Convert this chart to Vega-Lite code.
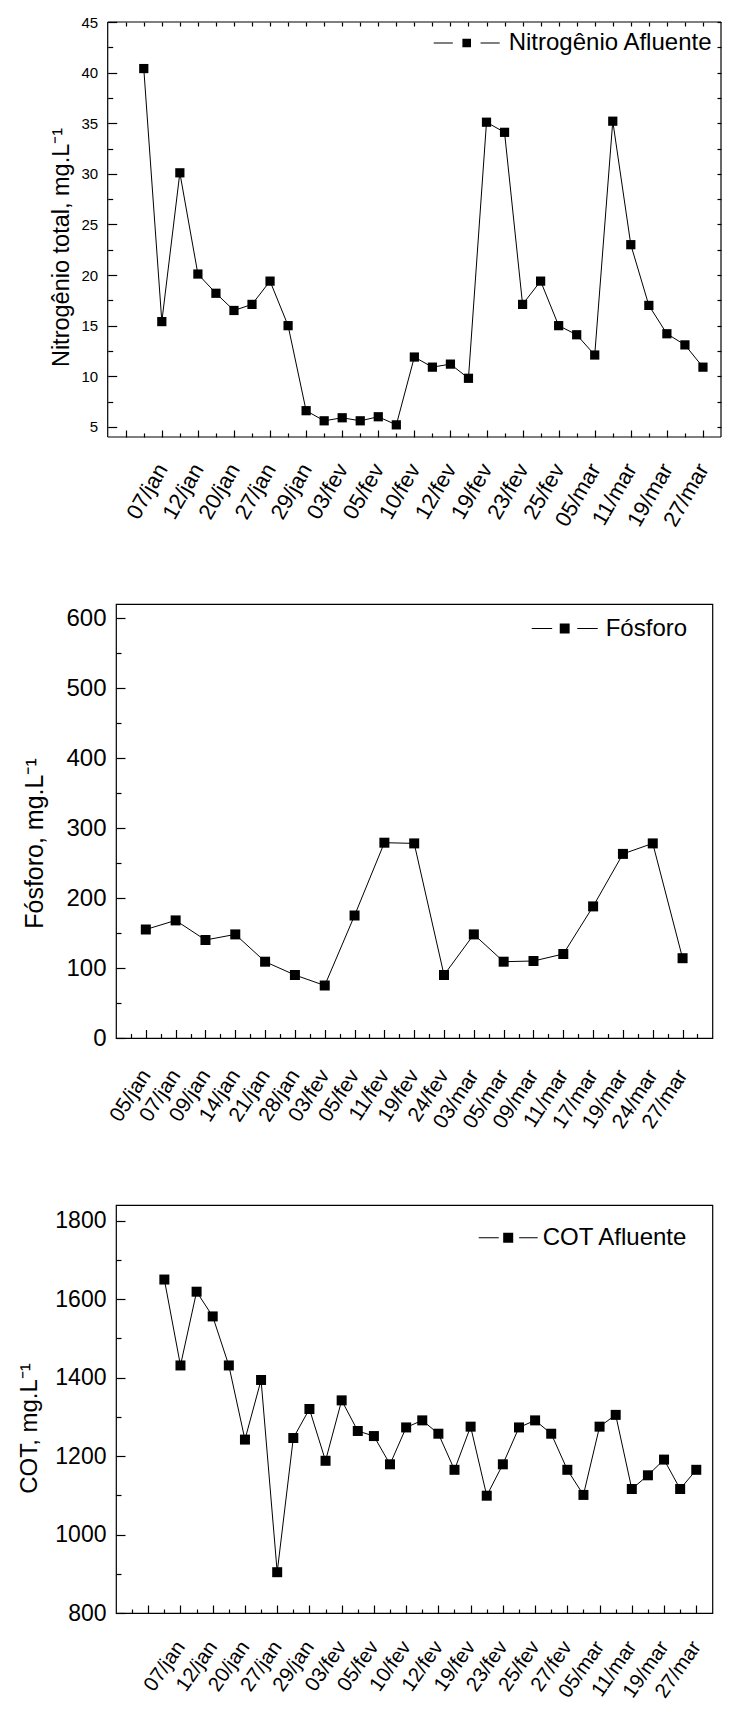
{
  "$schema": "https://vega.github.io/schema/vega-lite/v6.json",
  "padding": {"left": 16, "top": 10, "right": 0, "bottom": 0},
  "bounds": "flush",
  "spacing": 167,
  "resolve": {"scale": {"shape": "independent"}, "legend": {"shape": "independent"}},
  "config": {
    "font": "Liberation Sans",
    "axis": {
      "labelFont": "Liberation Sans",
      "titleFont": "Liberation Sans",
      "labelColor": "black",
      "titleColor": "black",
      "tickColor": "black",
      "tickWidth": 1.2,
      "tickCount": 200,
      "domain": false,
      "grid": false,
      "titleFontWeight": "normal",
      "labelFlush": false,
      "labelOverlap": false
    }
  },
  "datasets": {
    "nitrogenio": [
      {"amostra": 1, "valor": 40.4},
      {"amostra": 2, "data": "07/jan", "valor": 15.4},
      {"amostra": 3, "valor": 30.1},
      {"amostra": 4, "data": "12/jan", "valor": 20.1},
      {"amostra": 5, "valor": 18.2},
      {"amostra": 6, "data": "20/jan", "valor": 16.5},
      {"amostra": 7, "valor": 17.1},
      {"amostra": 8, "data": "27/jan", "valor": 19.4},
      {"amostra": 9, "valor": 15.0},
      {"amostra": 10, "data": "29/jan", "valor": 6.6},
      {"amostra": 11, "valor": 5.6},
      {"amostra": 12, "data": "03/fev", "valor": 5.9},
      {"amostra": 13, "valor": 5.6},
      {"amostra": 14, "data": "05/fev", "valor": 6.0},
      {"amostra": 15, "valor": 5.2},
      {"amostra": 16, "data": "10/fev", "valor": 11.9},
      {"amostra": 17, "valor": 10.9},
      {"amostra": 18, "data": "12/fev", "valor": 11.2},
      {"amostra": 19, "valor": 9.8},
      {"amostra": 20, "data": "19/fev", "valor": 35.1},
      {"amostra": 21, "valor": 34.1},
      {"amostra": 22, "data": "23/fev", "valor": 17.1},
      {"amostra": 23, "valor": 19.4},
      {"amostra": 24, "data": "25/fev", "valor": 15.0},
      {"amostra": 25, "valor": 14.1},
      {"amostra": 26, "data": "05/mar", "valor": 12.1},
      {"amostra": 27, "valor": 35.2},
      {"amostra": 28, "data": "11/mar", "valor": 23.0},
      {"amostra": 29, "valor": 17.0},
      {"amostra": 30, "data": "19/mar", "valor": 14.2},
      {"amostra": 31, "valor": 13.1},
      {"amostra": 32, "data": "27/mar", "valor": 10.9}
    ],
    "fosforo": [
      {"amostra": 1, "data": "05/jan", "valor": 155},
      {"amostra": 2, "data": "07/jan", "valor": 168},
      {"amostra": 3, "data": "09/jan", "valor": 140},
      {"amostra": 4, "data": "14/jan", "valor": 148},
      {"amostra": 5, "data": "21/jan", "valor": 109},
      {"amostra": 6, "data": "28/jan", "valor": 90},
      {"amostra": 7, "data": "03/fev", "valor": 75},
      {"amostra": 8, "data": "05/fev", "valor": 175},
      {"amostra": 9, "data": "11/fev", "valor": 279},
      {"amostra": 10, "data": "19/fev", "valor": 278},
      {"amostra": 11, "data": "24/fev", "valor": 90},
      {"amostra": 12, "data": "03/mar", "valor": 148},
      {"amostra": 13, "data": "05/mar", "valor": 109},
      {"amostra": 14, "data": "09/mar", "valor": 110},
      {"amostra": 15, "data": "11/mar", "valor": 120},
      {"amostra": 16, "data": "17/mar", "valor": 188},
      {"amostra": 17, "data": "19/mar", "valor": 263},
      {"amostra": 18, "data": "24/mar", "valor": 278},
      {"amostra": 19, "data": "27/mar", "valor": 114}
    ],
    "cot": [
      {"amostra": 1, "valor": 1650},
      {"amostra": 2, "data": "07/jan", "valor": 1431},
      {"amostra": 3, "valor": 1619},
      {"amostra": 4, "data": "12/jan", "valor": 1556},
      {"amostra": 5, "valor": 1431},
      {"amostra": 6, "data": "20/jan", "valor": 1242},
      {"amostra": 7, "valor": 1394},
      {"amostra": 8, "data": "27/jan", "valor": 904},
      {"amostra": 9, "valor": 1246},
      {"amostra": 10, "data": "29/jan", "valor": 1320},
      {"amostra": 11, "valor": 1188},
      {"amostra": 12, "data": "03/fev", "valor": 1342},
      {"amostra": 13, "valor": 1264},
      {"amostra": 14, "data": "05/fev", "valor": 1251},
      {"amostra": 15, "valor": 1179},
      {"amostra": 16, "data": "10/fev", "valor": 1273},
      {"amostra": 17, "valor": 1291},
      {"amostra": 18, "data": "12/fev", "valor": 1257},
      {"amostra": 19, "valor": 1165},
      {"amostra": 20, "data": "19/fev", "valor": 1275},
      {"amostra": 21, "valor": 1099},
      {"amostra": 22, "data": "23/fev", "valor": 1179},
      {"amostra": 23, "valor": 1273},
      {"amostra": 24, "data": "25/fev", "valor": 1291},
      {"amostra": 25, "valor": 1257},
      {"amostra": 26, "data": "27/fev", "valor": 1165},
      {"amostra": 27, "valor": 1101},
      {"amostra": 28, "data": "05/mar", "valor": 1275},
      {"amostra": 29, "valor": 1305},
      {"amostra": 30, "data": "11/mar", "valor": 1116},
      {"amostra": 31, "valor": 1151},
      {"amostra": 32, "data": "19/mar", "valor": 1191},
      {"amostra": 33, "valor": 1116},
      {"amostra": 34, "data": "27/mar", "valor": 1165}
    ]
  },
  "vconcat": [
    {
      "width": 605,
      "height": 415,
      "view": {"stroke": null},
      "data": {"name": "nitrogenio"},
      "resolve": {"axis": {"x": "independent", "y": "independent"}},
      "layer": [
        {
          "data": {"values": [{}]},
          "mark": {"type": "rule", "color": "black", "strokeWidth": 1.2},
          "encoding": {"x": {"datum": -1, "axis": null}, "x2": {"datum": 33}, "y": {"datum": 45, "axis": null}}
        },
        {
          "data": {"values": [{}]},
          "mark": {"type": "rule", "color": "black", "strokeWidth": 1.2},
          "encoding": {"x": {"datum": -1, "axis": null}, "x2": {"datum": 33}, "y": {"datum": 4, "axis": null}}
        },
        {
          "data": {"values": [{}]},
          "mark": {"type": "rule", "color": "black", "strokeWidth": 1.2},
          "encoding": {"x": {"datum": -1, "axis": null}, "y": {"datum": 4, "axis": null}, "y2": {"datum": 45}}
        },
        {
          "data": {"values": [{}]},
          "mark": {"type": "rule", "color": "black", "strokeWidth": 1.2},
          "encoding": {"x": {"datum": 33, "axis": null}, "y": {"datum": 4, "axis": null}, "y2": {"datum": 45}}
        },
        {
          "mark": {"type": "line", "color": "black", "strokeWidth": 1},
          "encoding": {
            "x": {
              "field": "amostra", "type": "quantitative",
              "scale": {"domain": [-0.54, 33], "nice": false, "zero": false},
              "axis": {
                "title": null,
                "labelOverlap": false,
                "tickCount": 200,
                "values": [0,1,2,3,4,5,6,7,8,9,10,11,12,13,14,15,16,17,18,19,20,21,22,23,24,25,26,27,28,29,30,31,32],
                "tickSize": {"condition": {"test": "datum.value % 2 === 0", "value": -7}, "value": -4},
                "labelExpr": "datum.value >= 2 && datum.value % 2 === 0 ? ['07/jan','12/jan','20/jan','27/jan','29/jan','03/fev','05/fev','10/fev','12/fev','19/fev','23/fev','25/fev','05/mar','11/mar','19/mar','27/mar'][datum.value / 2 - 1] : ''",
                "labelAngle": -60,
                "labelAlign": "right",
                "labelBaseline": "middle",
                "labelFontSize": 22,
                "labelPadding": 35
              }
            },
            "y": {
              "field": "valor", "type": "quantitative",
              "scale": {"domain": [4, 45], "nice": false, "zero": false},
              "axis": {
                "title": "Nitrogênio total, mg.L⁻¹",
                "titleFontSize": 23.5,
                "titleAngle": 270,
                "titleAlign": "center",
                "titleBaseline": "bottom",
                "titleX": -34,
                "titleY": 225,
                "labelOverlap": false,
                "tickCount": 200,
                "format": "d",
                "offset": 8.3,
                "values": [5,7.5,10,12.5,15,17.5,20,22.5,25,27.5,30,32.5,35,37.5,40,42.5,45],
                "tickSize": {"condition": {"test": "datum.value % 5 === 0", "value": -9}, "value": -5},
                "labelExpr": "datum.value % 5 === 0 ? datum.label : ''",
                "labelFontSize": 15,
                "labelPadding": 19
              }
            }
          }
        },
        {
          "mark": {"type": "point", "shape": "square", "filled": true, "color": "black", "size": 85, "opacity": 1},
          "encoding": {
            "x": {
              "field": "amostra", "type": "quantitative",
              "axis": {
                "orient": "top", "title": null, "labels": false, "tickCount": 200,
                "values": [0,1,2,3,4,5,6,7,8,9,10,11,12,13,14,15,16,17,18,19,20,21,22,23,24,25,26,27,28,29,30,31,32],
                "tickSize": -4
              }
            },
            "y": {
              "field": "valor", "type": "quantitative",
              "axis": {
                "orient": "right", "title": null, "labels": false, "tickCount": 200,
                "values": [5,7.5,10,12.5,15,17.5,20,22.5,25,27.5,30,32.5,35,37.5,40,42.5,45],
                "tickSize": -4
              }
            }
          }
        },
        {
          "transform": [{"filter": "false"}],
          "mark": {"type": "point", "filled": true, "fill": "black", "stroke": "black", "strokeWidth": 1},
          "encoding": {
            "shape": {
              "datum": "Nitrogênio Afluente",
              "scale": {"range": ["M-1,-0.015H-0.42V0.015H-1ZM0.42,-0.015H1V0.015H0.42ZM-0.13,-0.13H0.13V0.13H-0.13Z"]},
              "legend": {
                "orient": "none", "legendX": 317.7, "legendY": -12, "title": null,
                "padding": 0, "labelFontSize": 24, "labelFont": "Liberation Sans", "labelColor": "black",
                "labelLimit": 400, "labelOffset": 9, "symbolSize": 4356, "symbolStrokeWidth": 0,
                "symbolFillColor": "black", "symbolStrokeColor": "black", "symbolOpacity": 1
              }
            }
          }
        }
      ]
    },
    {
      "width": 596.4,
      "height": 434,
      "view": {"stroke": "black", "strokeWidth": 1.2},
      "data": {"name": "fosforo"},
      "layer": [
        {
          "mark": {"type": "line", "color": "black", "strokeWidth": 1},
          "encoding": {
            "x": {
              "field": "amostra", "type": "quantitative",
              "scale": {"domain": [0, 20], "nice": false, "zero": false},
              "axis": {
                "title": null,
                "labelOverlap": false,
                "tickCount": 200,
                "values": [0.5,1,1.5,2,2.5,3,3.5,4,4.5,5,5.5,6,6.5,7,7.5,8,8.5,9,9.5,10,10.5,11,11.5,12,12.5,13,13.5,14,14.5,15,15.5,16,16.5,17,17.5,18,18.5,19,19.5],
                "tickSize": {"condition": {"test": "datum.value % 1 === 0", "value": -8.5}, "value": -4.5},
                "labelExpr": "datum.value % 1 === 0 ? ['05/jan','07/jan','09/jan','14/jan','21/jan','28/jan','03/fev','05/fev','11/fev','19/fev','24/fev','03/mar','05/mar','09/mar','11/mar','17/mar','19/mar','24/mar','27/mar'][datum.value - 1] : ''",
                "labelAngle": -57,
                "labelAlign": "right",
                "labelBaseline": "middle",
                "labelFontSize": 21,
                "labelPadding": 42
              }
            },
            "y": {
              "field": "valor", "type": "quantitative",
              "scale": {"domain": [0, 620], "nice": false, "zero": false},
              "axis": {
                "title": "Fósforo, mg.L⁻¹",
                "titleFontSize": 25,
                "titleAngle": 270,
                "titleAlign": "center",
                "titleBaseline": "bottom",
                "titleX": -69,
                "titleY": 239,
                "labelOverlap": false,
                "tickCount": 200,
                "values": [0,50,100,150,200,250,300,350,400,450,500,550,600],
                "tickSize": {"condition": {"test": "datum.value % 100 === 0", "value": -9}, "value": -5},
                "labelExpr": "datum.value % 100 === 0 ? datum.label : ''",
                "labelFontSize": 24,
                "labelPadding": 19
              }
            }
          }
        },
        {
          "mark": {"type": "point", "shape": "square", "filled": true, "color": "black", "size": 100, "opacity": 1},
          "encoding": {
            "x": {"field": "amostra", "type": "quantitative"},
            "y": {"field": "valor", "type": "quantitative"}
          }
        },
        {
          "transform": [{"filter": "false"}],
          "mark": {"type": "point", "filled": true, "fill": "black", "stroke": "black", "strokeWidth": 1},
          "encoding": {
            "shape": {
              "datum": "Fósforo",
              "scale": {"range": ["M-1,-0.015H-0.38V0.015H-1ZM0.38,-0.015H1V0.015H0.38ZM-0.15,-0.15H0.15V0.15H-0.15Z"]},
              "legend": {
                "orient": "none", "legendX": 415.7, "legendY": -8.5, "title": null,
                "padding": 0, "labelFontSize": 24, "labelFont": "Liberation Sans", "labelColor": "black",
                "labelLimit": 400, "labelOffset": 8, "symbolSize": 4356, "symbolStrokeWidth": 0,
                "symbolFillColor": "black", "symbolStrokeColor": "black", "symbolOpacity": 1
              }
            }
          }
        }
      ]
    },
    {
      "width": 596.4,
      "height": 408,
      "view": {"stroke": "black", "strokeWidth": 1.2},
      "data": {"name": "cot"},
      "layer": [
        {
          "mark": {"type": "line", "color": "black", "strokeWidth": 1},
          "encoding": {
            "x": {
              "field": "amostra", "type": "quantitative",
              "scale": {"domain": [-2, 35], "nice": false, "zero": false},
              "axis": {
                "title": null,
                "labelOverlap": false,
                "tickCount": 200,
                "values": [-1,0,1,2,3,4,5,6,7,8,9,10,11,12,13,14,15,16,17,18,19,20,21,22,23,24,25,26,27,28,29,30,31,32,33,34],
                "tickSize": {"condition": {"test": "datum.value % 2 === 0", "value": -8}, "value": -4},
                "labelExpr": "datum.value >= 2 && datum.value % 2 === 0 ? ['07/jan','12/jan','20/jan','27/jan','29/jan','03/fev','05/fev','10/fev','12/fev','19/fev','23/fev','25/fev','27/fev','05/mar','11/mar','19/mar','27/mar'][datum.value / 2 - 1] : ''",
                "labelAngle": -55,
                "labelAlign": "right",
                "labelBaseline": "middle",
                "labelFontSize": 20.5,
                "labelPadding": 38
              }
            },
            "y": {
              "field": "valor", "type": "quantitative",
              "scale": {"domain": [800, 1840], "nice": false, "zero": false},
              "axis": {
                "title": "COT, mg.L⁻¹",
                "titleFontSize": 24,
                "titleAngle": 270,
                "titleAlign": "center",
                "titleBaseline": "bottom",
                "titleX": -75,
                "titleY": 223,
                "labelOverlap": false,
                "tickCount": 200,
                "format": "d",
                "values": [800,900,1000,1100,1200,1300,1400,1500,1600,1700,1800],
                "tickSize": {"condition": {"test": "datum.value % 200 === 0", "value": -9}, "value": -5},
                "labelExpr": "datum.value % 200 === 0 ? datum.label : ''",
                "labelFontSize": 23,
                "labelPadding": 19
              }
            }
          }
        },
        {
          "mark": {"type": "point", "shape": "square", "filled": true, "color": "black", "size": 100, "opacity": 1},
          "encoding": {
            "x": {"field": "amostra", "type": "quantitative"},
            "y": {"field": "valor", "type": "quantitative"}
          }
        },
        {
          "transform": [{"filter": "false"}],
          "mark": {"type": "point", "filled": true, "fill": "black", "stroke": "black", "strokeWidth": 1},
          "encoding": {
            "shape": {
              "datum": "COT Afluente",
              "scale": {"range": ["M-1,-0.017H-0.32V0.017H-1ZM0.37,-0.017H1V0.017H0.37ZM-0.17,-0.17H0.17V0.17H-0.17Z"]},
              "legend": {
                "orient": "none", "legendX": 362.7, "legendY": 3.3, "title": null,
                "padding": 0, "labelFontSize": 24, "labelFont": "Liberation Sans", "labelColor": "black",
                "labelLimit": 400, "labelOffset": 5, "symbolSize": 3481, "symbolStrokeWidth": 0,
                "symbolFillColor": "black", "symbolStrokeColor": "black", "symbolOpacity": 1
              }
            }
          }
        }
      ]
    }
  ]
}
